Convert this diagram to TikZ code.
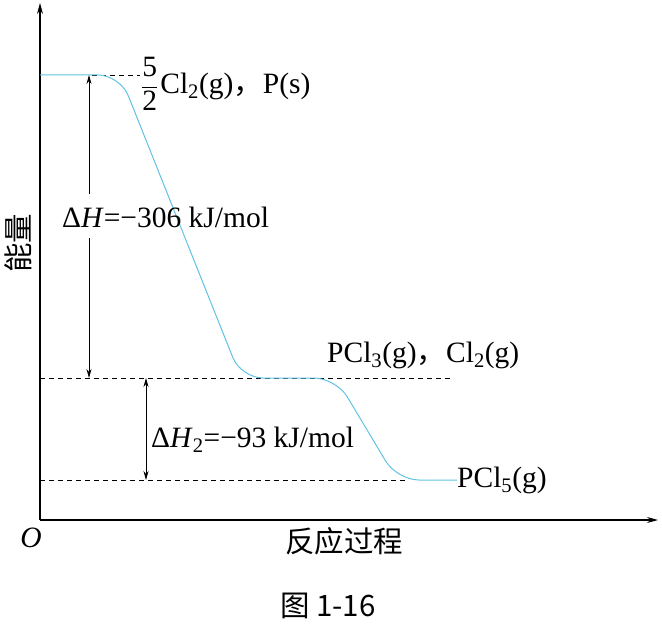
\documentclass[tikz,border=0pt]{standalone}
\usepackage{fontspec}
\setmainfont{Liberation Serif}
\newfontfamily\cjk{Noto Sans CJK SC}
\usetikzlibrary{arrows.meta}
\definecolor{curvecol}{RGB}{95,195,225}
\begin{document}
\begin{tikzpicture}[x=1pt,y=-1pt,
  lbl/.style={inner sep=0pt,font=\fontsize{29.5}{34}\selectfont},
  axis/.style={line width=1.2pt,-{Stealth[length=11pt,width=6pt]}},
  dimarrow/.style={line width=0.8pt,-{Stealth[length=9pt,width=5pt]}},
  dimarrows/.style={line width=0.8pt,{Stealth[length=9pt,width=5pt]}-{Stealth[length=9pt,width=5pt]}},
  lev/.style={line width=0.8pt,dash pattern=on 5pt off 4pt},
  curve/.style={curvecol,line width=1pt,rounded corners=22pt}]
\useasboundingbox (0,0) rectangle (662,626);
% axes
\coordinate (O) at (40,520);
\coordinate (ytip) at (40,3);
\coordinate (xtip) at (658,520);
\draw[axis] (O) -- (ytip);
\draw[axis] (O) -- (xtip);
% level coordinates
\coordinate (top) at (89,75);
\coordinate (mid) at (89,378);
\coordinate (midB) at (146,378);
\coordinate (low) at (146,480);
% dashed levels
\draw[lev] (92,75) -- (140,75);
\draw[lev] (40,378) -- (450,378);
\draw[lev] (40,480) -- (408,480);
% energy curve
\draw[curve] (40,75) -- (120,75) -- (241,378) -- (336,378) -- (397,480) -- (457,480);
% Delta H arrow with gap
\node[lbl,anchor=west] (dH) at (62,217) {Δ\textit{H}=−306 kJ/mol};
\coordinate (gapT) at (89,194);
\coordinate (gapB) at (89,238);
\draw[dimarrow] (gapT) -- (top);
\draw[dimarrow] (gapB) -- (mid);
% Delta H2 arrow
\draw[dimarrows] (midB) -- (low);
\node[lbl,anchor=west] (dH2) at (151,440) {Δ\textit{H}\textsubscript{2}=−93 kJ/mol};
% level labels
\node[lbl,anchor=west] (Ltop) at (141,84) {$\displaystyle\frac{\hbox{5}}{\hbox{2}}$\kern2pt Cl\textsubscript{2}(g){\cjk ，}P(s)};
\node[lbl,anchor=west] (Lmid) at (327,355) {PCl\textsubscript{3}(g){\cjk ，}Cl\textsubscript{2}(g)};
\node[lbl,anchor=west] (Llow) at (457,480) {PCl\textsubscript{5}(g)};
% axis labels
\node[lbl,rotate=90] (ylab) at (18,243) {\cjk 能量};
\node[lbl] (olab) at (31,538) {\textit{O}};
\node[lbl] (xlab) at (344,541) {\cjk 反应过程};
\node[lbl] (cap) at (328,606) {\cjk 图 1-16};
\end{tikzpicture}
\end{document}
